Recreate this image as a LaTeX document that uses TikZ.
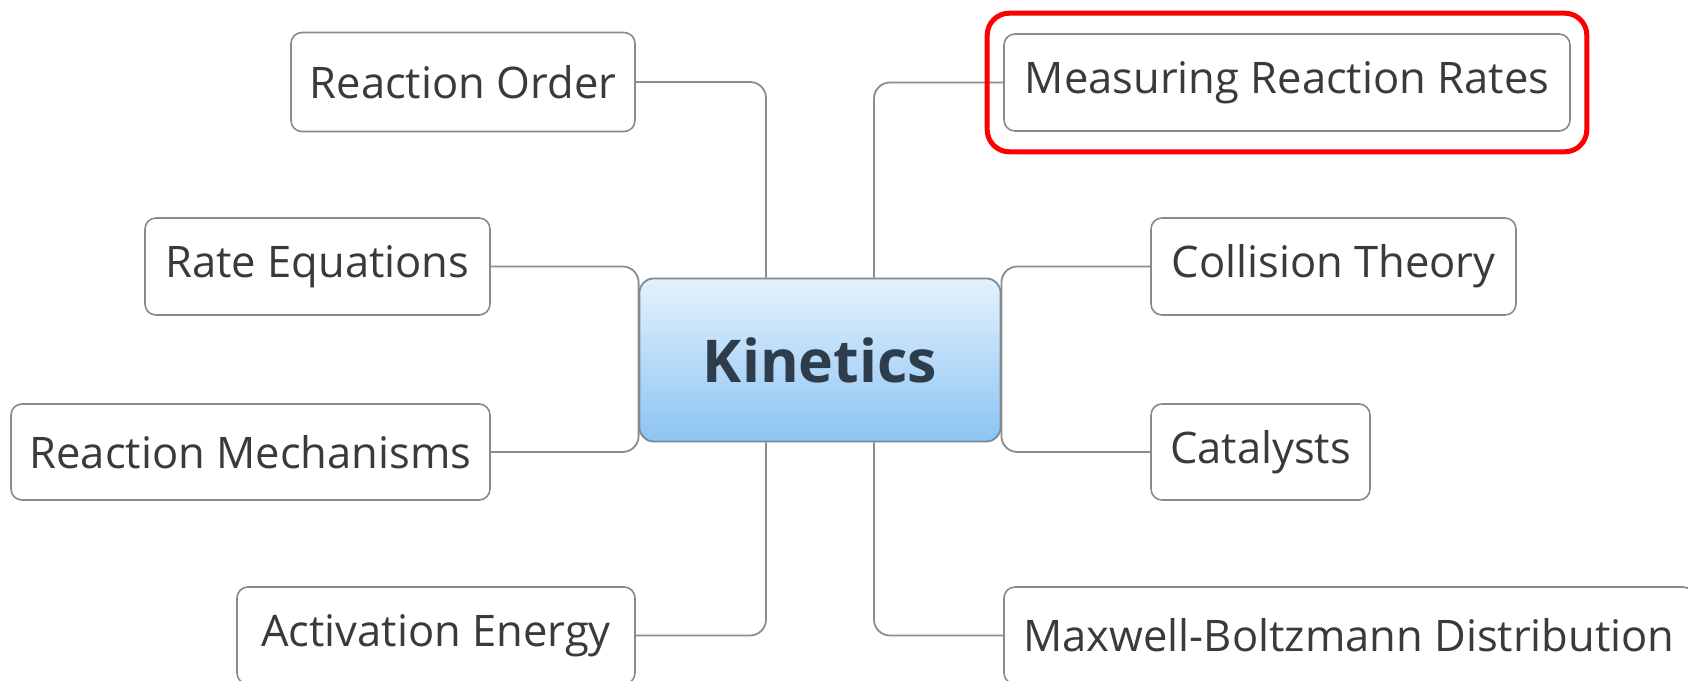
\documentclass[tikz,border=0pt]{standalone}
\usepackage{fontspec}
\setmainfont{Open Sans}
\usetikzlibrary{backgrounds,fit,calc}
\definecolor{boxline}{HTML}{8A8A8A}
\definecolor{connline}{HTML}{8C8C8C}
\definecolor{txt}{HTML}{3A3A3A}
\definecolor{kintxt}{HTML}{2E3D4C}
\definecolor{kintop}{HTML}{E4F1FD}
\definecolor{kinbot}{HTML}{8CC4F4}
\definecolor{kinline}{HTML}{7D8A96}
\tikzset{
  topic/.style={draw=boxline, line width=1.6pt, rounded corners=11pt, fill=white,
    text=txt, font=\fontsize{43.5}{50}\selectfont, inner sep=0pt, anchor=center},
  central/.style={draw=kinline, line width=1.8pt, rounded corners=14pt,
    top color=kintop, bottom color=kinbot, text=kintxt,
    font=\fontsize{59}{66}\selectfont\bfseries, inner sep=0pt,
    minimum width=361pt, minimum height=163pt},
  conn/.style={draw=connline, line width=1.8pt, rounded corners=16pt},
  highlight/.style={draw=red, line width=5pt, rounded corners=22pt, inner xsep=16pt, inner ysep=20pt}
}
\begin{document}
\begin{tikzpicture}[x=1pt,y=1pt]
\useasboundingbox (0,0) rectangle (1688,680);
\node[central] (kin) at (820,320) {Kinetics};
\node[topic, minimum width=344pt, minimum height=99pt] (ro) at (463,598) {Reaction Order};
\node[topic, minimum width=345pt, minimum height=97pt] (re) at (317.5,413.5) {Rate Equations};
\node[topic, minimum width=479pt, minimum height=96pt] (rm) at (250.5,228) {Reaction Mechanisms};
\node[topic, minimum width=398pt, minimum height=97pt] (ae) at (436,44.5) {Activation Energy};
\node[topic, minimum width=566pt, minimum height=97pt] (mrr) at (1287,597.5) {Measuring Reaction Rates};
\node[topic, minimum width=365pt, minimum height=97pt] (ct) at (1333.5,413.5) {Collision Theory};
\node[topic, minimum width=219pt, minimum height=96pt] (cat) at (1260.5,228) {Catalysts};
\node[topic, minimum width=690pt, minimum height=97pt] (mb) at (1349,44.5) {Maxwell-Boltzmann Distribution};
\node[highlight, fit=(mrr)] (hl) {};
\begin{scope}[on background layer]
\fill[white] (0,0) rectangle (1688,680);
\draw[conn] (ro.east) -| ([xshift=-54pt]kin.north);
\draw[conn] (mrr.west) -| ([xshift=54pt]kin.north);
\draw[conn] (ae.east) -| ([xshift=-54pt]kin.south);
\draw[conn] (mb.west) -| ([xshift=54pt]kin.south);
\draw[conn] (re.east) -| (kin.west);
\draw[conn] (rm.east) -| (kin.west);
\draw[conn] (ct.west) -| (kin.east);
\draw[conn] (cat.west) -| (kin.east);
\end{scope}
\end{tikzpicture}
\end{document}
